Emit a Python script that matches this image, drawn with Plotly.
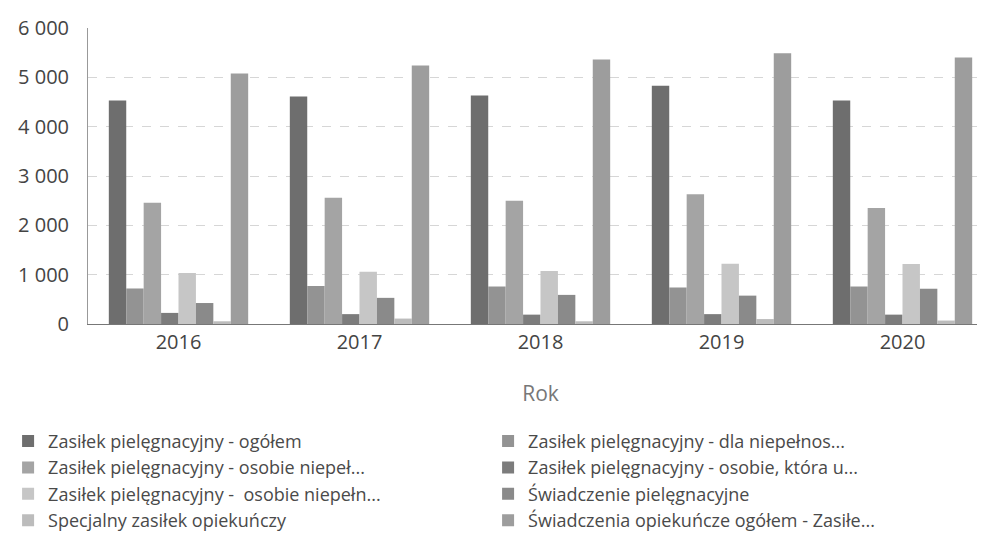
import plotly.graph_objects as go

years = ["2016", "2017", "2018", "2019", "2020"]

series_names = [
    "Zasiłek pielęgnacyjny - ogółem",
    "Zasiłek pielęgnacyjny - dla niepełnos...",
    "Zasiłek pielęgnacyjny - osobie niepeł...",
    "Zasiłek pielęgnacyjny - osobie, która u...",
    "Zasiłek pielęgnacyjny -  osobie niepełn...",
    "Świadczenie pielęgnacyjne",
    "Specjalny zasiłek opiekuńczy",
    "Świadczenia opiekuńcze ogółem - Zasiłe...",
]

zp_ogolem = [4530, 4610, 4630, 4830, 4530]
zp_dla_niepelnos = [720, 770, 760, 740, 760]
zp_osobie_niepel = [2460, 2560, 2500, 2630, 2350]
zp_osobie_ktora = [225, 200, 190, 200, 190]
zp_osobie_niepeln = [1035, 1060, 1075, 1220, 1215]
swiadczenie_piel = [425, 530, 590, 575, 715]
specjalny = [55, 110, 55, 100, 70]
swiadczenia_ogolem = [5080, 5240, 5360, 5490, 5400]

series_values = [
    zp_ogolem, zp_dla_niepelnos, zp_osobie_niepel, zp_osobie_ktora,
    zp_osobie_niepeln, swiadczenie_piel, specjalny, swiadczenia_ogolem,
]

colors = ["#6e6e6e", "#939393", "#a4a4a4", "#7c7c7c",
          "#c6c6c6", "#8a8a8a", "#bcbcbc", "#9d9d9d"]

fig = go.Figure()
for name, vals, col in zip(series_names, series_values, colors):
    fig.add_trace(go.Bar(x=years, y=vals, name=name,
                         marker=dict(color=col, line=dict(width=0))))

fig.update_layout(
    width=985, height=551,
    paper_bgcolor="white", plot_bgcolor="white",
    margin=dict(l=80, r=0, t=20, b=235),
    barmode="group", bargap=0.23, bargroupgap=0,
    separators=", ",
    font=dict(family="Open Sans", color="#444"),
    showlegend=True,
    legend=dict(
        orientation="h", x=-0.0883, xanchor="left", y=-0.334, yanchor="top",
        entrywidth=435, entrywidthmode="pixels",
        font=dict(size=18, color="#4a4a4a", family="Open Sans"),
        itemsizing="constant", traceorder="normal",
    ),
    xaxis=dict(
        title=dict(text="Rok", font=dict(size=21, color="#777"), standoff=32),
        tickfont=dict(size=20, color="#444"),
        showline=True, linecolor="#777", linewidth=1,
        ticks="", showgrid=False,
    ),
    yaxis=dict(
        range=[0, 6000], tickvals=[0, 1000, 2000, 3000, 4000, 5000, 6000],
        tickformat=",d", tickfont=dict(size=20, color="#444"),
        showgrid=True, gridcolor="#d6d6d6", griddash="dash", gridwidth=1,
        showline=True, linecolor="#999", linewidth=1,
        zeroline=True, zerolinecolor="#777", zerolinewidth=1,
        ticks="", ticklabelstandoff=14,
    ),
)

fig.write_html("out.html")
